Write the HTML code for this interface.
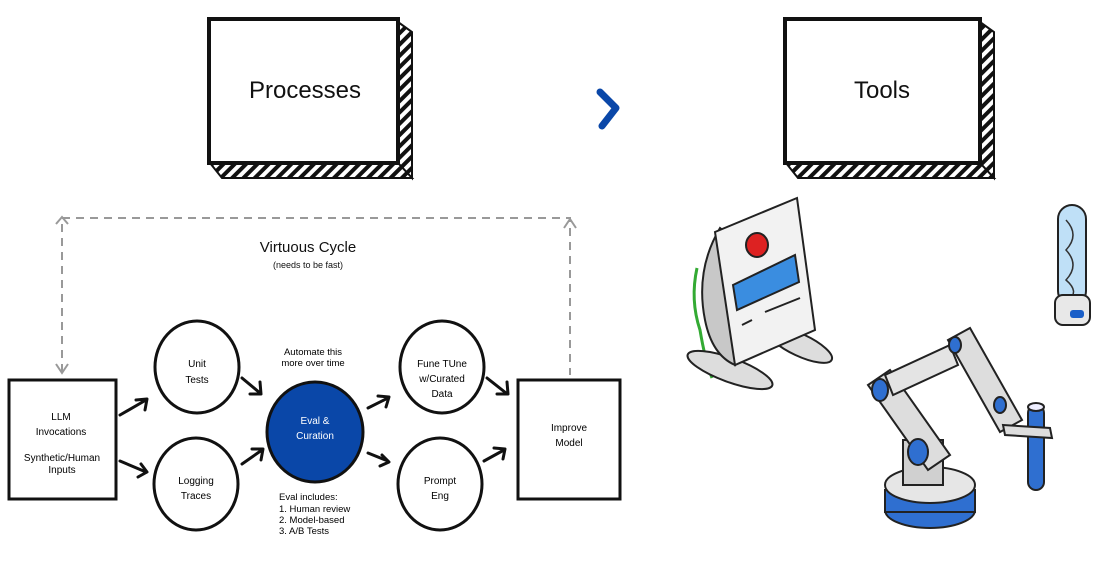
<!DOCTYPE html>
<html><head><meta charset="utf-8"><style>
html,body{margin:0;padding:0;background:#fff;width:1100px;height:578px;overflow:hidden}
svg{display:block}
.h{font-family:"Comic Sans MS","Liberation Sans",sans-serif}
.s{font-family:"Liberation Sans",sans-serif}
</style></head><body>
<svg width="1100" height="578" viewBox="0 0 1100 578">
<defs>
<pattern id="st" width="8" height="8" patternUnits="userSpaceOnUse" patternTransform="rotate(45)">
<rect width="8" height="8" fill="#fff"/><rect width="4" height="8" fill="#111"/></pattern>
<marker id="ah" markerWidth="10" markerHeight="10" refX="5" refY="5" orient="auto"><path d="M1,1 L6,5 L1,9" fill="none" stroke="#999" stroke-width="1.6"/></marker>
</defs>
<!-- Processes box -->
<polygon points="398,22 412,32 412,178 398,163" fill="url(#st)" stroke="#111" stroke-width="2"/>
<polygon points="210,163 398,163 412,178 222,178" fill="url(#st)" stroke="#111" stroke-width="2"/>
<rect x="209" y="19" width="189" height="144" fill="#fff" stroke="#111" stroke-width="4"/>
<text x="305" y="98" class="h" font-size="24" text-anchor="middle" fill="#111">Processes</text>
<!-- Tools box -->
<polygon points="980,22 994,32 994,178 980,163" fill="url(#st)" stroke="#111" stroke-width="2"/>
<polygon points="786,163 980,163 994,178 798,178" fill="url(#st)" stroke="#111" stroke-width="2"/>
<rect x="785" y="19" width="195" height="144" fill="#fff" stroke="#111" stroke-width="4"/>
<text x="882" y="98" class="h" font-size="24" text-anchor="middle" fill="#111">Tools</text>
<!-- chevron -->
<path d="M600,92 L616,108 L602,126" fill="none" stroke="#0a47a8" stroke-width="7" stroke-linecap="round" stroke-linejoin="round"/>
<!-- dashed cycle -->
<path d="M62,372 L62,218 L570,218 L570,375" fill="none" stroke="#999" stroke-width="2" stroke-dasharray="8,6"/>
<path d="M56,364 L62,373 L68,364" fill="none" stroke="#999" stroke-width="2"/>
<path d="M564,228 L570,219 L576,228" fill="none" stroke="#999" stroke-width="2"/>
<path d="M56,224 L62,217 L68,224" fill="none" stroke="#999" stroke-width="2"/>
<text x="308" y="252" class="h" font-size="15" text-anchor="middle" fill="#111">Virtuous Cycle</text>
<text x="308" y="268" class="h" font-size="9" text-anchor="middle" fill="#111">(needs to be fast)</text>
<!-- LLM box -->
<rect x="9" y="380" width="107" height="119" fill="#fff" stroke="#111" stroke-width="3"/>
<text x="61" y="420" class="h" font-size="10" text-anchor="middle">LLM</text>
<text x="61" y="435" class="h" font-size="10" text-anchor="middle">Invocations</text>
<text x="62" y="461" class="s" font-size="10" text-anchor="middle">Synthetic/Human</text>
<text x="62" y="473" class="s" font-size="10" text-anchor="middle">Inputs</text>
<!-- circles -->
<ellipse cx="197" cy="367" rx="42" ry="46" fill="#fff" stroke="#111" stroke-width="3"/>
<text x="197" y="367" class="h" font-size="10" text-anchor="middle">Unit</text>
<text x="197" y="383" class="h" font-size="10" text-anchor="middle">Tests</text>
<ellipse cx="196" cy="484" rx="42" ry="46" fill="#fff" stroke="#111" stroke-width="3"/>
<text x="196" y="484" class="h" font-size="10" text-anchor="middle">Logging</text>
<text x="196" y="499" class="h" font-size="10" text-anchor="middle">Traces</text>
<ellipse cx="315" cy="432" rx="48" ry="50" fill="#0a47a8" stroke="#111" stroke-width="3"/>
<text x="315" y="424" class="h" font-size="10" text-anchor="middle" fill="#fff">Eval &amp;</text>
<text x="315" y="439" class="h" font-size="10" text-anchor="middle" fill="#fff">Curation</text>
<ellipse cx="442" cy="367" rx="42" ry="46" fill="#fff" stroke="#111" stroke-width="3"/>
<text x="442" y="367" class="h" font-size="10" text-anchor="middle">Fune TUne</text>
<text x="442" y="382" class="h" font-size="10" text-anchor="middle">w/Curated</text>
<text x="442" y="397" class="h" font-size="10" text-anchor="middle">Data</text>
<ellipse cx="440" cy="484" rx="42" ry="46" fill="#fff" stroke="#111" stroke-width="3"/>
<text x="440" y="484" class="h" font-size="10" text-anchor="middle">Prompt</text>
<text x="440" y="499" class="h" font-size="10" text-anchor="middle">Eng</text>
<!-- Improve -->
<rect x="518" y="380" width="102" height="119" fill="#fff" stroke="#111" stroke-width="3"/>
<text x="569" y="431" class="h" font-size="10" text-anchor="middle">Improve</text>
<text x="569" y="446" class="h" font-size="10" text-anchor="middle">Model</text>
<!-- notes -->
<text x="313" y="355" class="s" font-size="9.5" text-anchor="middle">Automate this</text>
<text x="313" y="366" class="s" font-size="9.5" text-anchor="middle">more over time</text>
<text x="279" y="500" class="s" font-size="9.5">Eval includes:</text>
<text x="279" y="512" class="s" font-size="9.5">1. Human review</text>
<text x="279" y="523" class="s" font-size="9.5">2. Model-based</text>
<text x="279" y="534" class="s" font-size="9.5">3. A/B Tests</text>
<!-- arrows -->
<g fill="none" stroke="#111" stroke-width="3" stroke-linecap="round" stroke-linejoin="round">
<path d="M120,415 L146,400 M136,400 L147,399 L145,410"/>
<path d="M120,461 L146,472 M141,464 L147,472 L138,477"/>
<path d="M242,378 L260,393 M260,382 L261,394 L250,394"/>
<path d="M242,464 L262,450 M252,449 L263,449 L261,460"/>
<path d="M368,408 L388,398 M378,396 L389,397 L386,407"/>
<path d="M368,453 L388,461 M382,455 L389,462 L380,466"/>
<path d="M487,378 L506,393 M507,382 L508,394 L497,394"/>
<path d="M484,461 L504,450 M494,448 L505,449 L503,459"/>
</g>
<!-- monitor illustration -->
<g stroke="#222" stroke-width="2">
<path d="M697,268 Q690,300 700,330 Q705,360 712,378" fill="none" stroke="#3a3" stroke-width="3"/>
<ellipse cx="730" cy="370" rx="45" ry="12" fill="#ddd" transform="rotate(20 730 370)"/>
<ellipse cx="800" cy="345" rx="35" ry="11" fill="#ddd" transform="rotate(25 800 345)"/>
<path d="M720,228 Q695,270 705,320 Q712,355 735,365 L735,240 Z" fill="#c8c8c8"/>
<polygon points="715,232 797,198 815,330 735,365" fill="#f2f2f2"/>
<ellipse cx="757" cy="245" rx="11" ry="12" fill="#d22"/>
<polygon points="733,285 795,255 799,282 737,310" fill="#3a8de0"/>
<line x1="742" y1="325" x2="752" y2="320"/><line x1="765" y1="312" x2="800" y2="298"/>
</g>
<!-- test tube -->
<g stroke="#222" stroke-width="2">
<rect x="1058" y="205" width="28" height="100" rx="14" fill="#bfe0f7"/>
<path d="M1066,220 Q1080,235 1066,250 Q1080,265 1066,280 Q1080,292 1068,300" fill="none" stroke="#333" stroke-width="1.5"/>
<rect x="1055" y="295" width="35" height="30" rx="8" fill="#e8e8e8"/>
<rect x="1070" y="310" width="14" height="8" rx="3" fill="#1a5fc8" stroke="none"/>
</g>
<!-- robot arm -->
<g stroke="#222" stroke-width="2">
<ellipse cx="930" cy="510" rx="45" ry="18" fill="#2f6fd0"/>
<rect x="885" y="490" width="90" height="22" fill="#2f6fd0"/>
<ellipse cx="930" cy="485" rx="45" ry="18" fill="#e6e6e6"/>
<rect x="903" y="440" width="40" height="45" fill="#d0d0d0"/>
<polygon points="868,385 890,370 950,455 928,470" fill="#ddd"/>
<polygon points="885,375 950,345 958,365 893,395" fill="#e4e4e4"/>
<polygon points="948,340 970,328 1022,420 1000,432" fill="#ddd"/>
<ellipse cx="880" cy="390" rx="8" ry="11" fill="#2f6fd0"/>
<ellipse cx="918" cy="452" rx="10" ry="13" fill="#2f6fd0"/>
<ellipse cx="955" cy="345" rx="6" ry="8" fill="#2f6fd0"/>
<ellipse cx="1000" cy="405" rx="6" ry="8" fill="#2f6fd0"/>
<rect x="1028" y="405" width="16" height="85" rx="8" fill="#2f6fd0"/>
<ellipse cx="1036" cy="407" rx="8" ry="4" fill="#eef"/>
<path d="M1003,425 L1050,428 L1052,438 L1005,435 Z" fill="#ddd"/>
</g>
</svg>
</body></html>
